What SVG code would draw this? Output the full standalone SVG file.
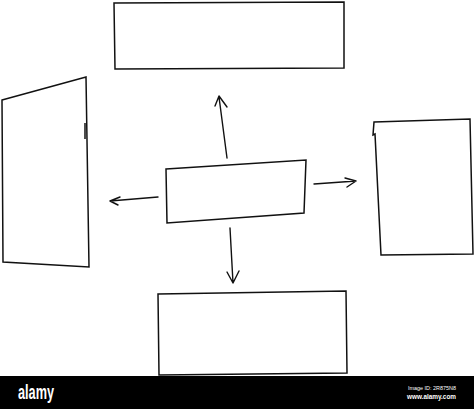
<svg xmlns="http://www.w3.org/2000/svg" width="474" height="409" viewBox="0 0 474 409">
<style>
.box{fill:#fff;stroke:#111;stroke-width:1.5;stroke-linejoin:miter}
.mark{fill:none;stroke:#111;stroke-width:1.5}
.conn{fill:none;stroke:#111;stroke-width:1.4;stroke-linecap:round;stroke-linejoin:round}
.wm{fill:#fff;font-family:"Liberation Sans","DejaVu Sans",sans-serif}
</style>
<rect x="0" y="0" width="474" height="409" fill="#fff"/>
<g id="node-top"><path class="box" d="M114,3 L344,2 L344,68 L115,69 Z"/></g>
<g id="node-left"><path class="box" d="M2,100 L86,77 L89,267 L3,262 Z"/><path class="mark" d="M85,123 L85,139"/></g>
<g id="node-center"><path class="box" d="M166,169 L306,160 L304,213 L167,223 Z"/></g>
<g id="node-right"><path class="box" d="M374,122 L470,119 L473,254 L381,255 L375,134 L373,135 Z"/></g>
<g id="node-bottom"><path class="box" d="M158,294 L346,291 L347,373 L159,375 Z"/></g>
<g id="connectors">
<path class="conn" d="M227,158 L219,97 M215,106 L219,96 L227,107"/>
<path class="conn" d="M314,184 L356,181 M345,178 L356,181 L347,187"/>
<path class="conn" d="M230,228 L233,283 M227,272 L233,283 L239,271"/>
<path class="conn" d="M158,197 L110,201 M120,197 L110,201 L118,205"/>
</g>
<rect x="0" y="376" width="474" height="33" fill="#000"/>
<text class="wm" x="18" y="399" font-size="20" font-weight="bold" font-family="Liberation Sans Narrow" textLength="36" lengthAdjust="spacingAndGlyphs">alamy</text>
<text class="wm" x="408" y="390" font-size="5.5" textLength="48" lengthAdjust="spacingAndGlyphs">Image ID: 2R875N8</text>
<text class="wm" x="407" y="399" font-size="7" font-weight="bold" textLength="49" lengthAdjust="spacingAndGlyphs">www.alamy.com</text>
</svg>
